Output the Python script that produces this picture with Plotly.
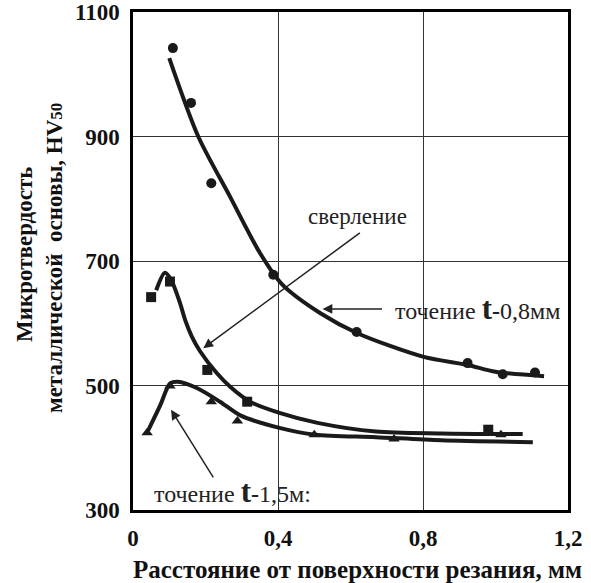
import plotly.graph_objects as go

# ---- data ----
# точение t-0,8 мм (circles)
pts08_x = [0.11, 0.160, 0.216, 0.387, 0.617, 0.923, 1.02, 1.109]
pts08_y = [1042, 954, 825, 678, 586, 536, 518, 521]
curve08_x = [0.10, 0.18, 0.268, 0.351, 0.412, 0.517, 0.619, 0.802, 0.923, 1.00, 1.134]
curve08_y = [1026, 900, 803, 712, 662, 616, 584, 546, 533, 522, 515]

# сверление (squares)
ptsdr_x = [0.05, 0.102, 0.205, 0.315, 0.98]
ptsdr_y = [642, 667, 525, 474, 429]
curvedr_x = [0.064, 0.088, 0.105, 0.130, 0.144, 0.162, 0.185, 0.231, 0.268, 0.323, 0.404, 0.509, 0.67, 0.85, 1.075]
curvedr_y = [653, 681, 670, 632, 605, 579, 555, 520, 498, 474, 456, 440, 426, 423, 422]

# точение t-1,5 мм (triangles)
pts15_x = [0.039, 0.102, 0.216, 0.288, 0.50, 0.72, 1.015]
pts15_y = [424, 499, 474, 443, 421, 414, 421]
curve15_x = [0.042, 0.075, 0.102, 0.124, 0.176, 0.24, 0.296, 0.404, 0.503, 0.67, 0.85, 1.103]
curve15_y = [428, 468, 503, 506, 496, 474, 452, 432, 421, 417, 412, 409]

x_ticks = [0, 0.4, 0.8, 1.2]
x_ticklabels = ["0", "0,4", "0,8", "1,2"]
y_ticks = [300, 500, 700, 900, 1100]
y_ticklabels = ["300", "500", "700", "900", "1100"]

SERIF = "Liberation Serif, Times New Roman, Tinos, serif"
fig = go.Figure()

def add_series(cx, cy, px, py, symbol):
    fig.add_trace(go.Scatter(x=cx, y=cy, mode="lines",
                             line=dict(color="#1a1a1a", width=4, shape="spline", smoothing=0.8),
                             hoverinfo="skip", showlegend=False))
    fig.add_trace(go.Scatter(x=px, y=py, mode="markers",
                             marker=dict(symbol=symbol, size=10, color="#1a1a1a"),
                             showlegend=False))

add_series(curve08_x, curve08_y, pts08_x, pts08_y, "circle")
add_series(curvedr_x, curvedr_y, ptsdr_x, ptsdr_y, "square")
add_series(curve15_x, curve15_y, pts15_x, pts15_y, "triangle-up")

ann_font = dict(family=SERIF, size=24, color="#222222")
T_SPAN = "<b><span style='font-size:31px'>t</span>-</b>"
annotations = [
    # arrows
    dict(x=0.194, y=560, ax=0.630, ay=747, axref="x", ayref="y", xref="x", yref="y",
         showarrow=True, arrowhead=2, arrowsize=1.3, arrowwidth=1.5, arrowcolor="#222222", text=""),
    dict(x=0.523, y=623, ax=0.691, ay=623, axref="x", ayref="y", xref="x", yref="y",
         showarrow=True, arrowhead=2, arrowsize=1.3, arrowwidth=1.5, arrowcolor="#222222", text=""),
    dict(x=0.105, y=461, ax=0.224, ay=350, axref="x", ayref="y", xref="x", yref="y",
         showarrow=True, arrowhead=2, arrowsize=1.3, arrowwidth=1.5, arrowcolor="#222222", text=""),
    # labels
    dict(x=0.619, y=771, xref="x", yref="y", text="сверление", showarrow=False,
         font=dict(family=SERIF, size=23, color="#222222"), xanchor="center", yanchor="middle"),
    dict(x=0.717, y=623, xref="x", yref="y",
         text="точение " + T_SPAN + "0,8мм", showarrow=False,
         font=ann_font, xanchor="left", yanchor="middle"),
    dict(x=0.052, y=329, xref="x", yref="y",
         text="точение " + T_SPAN + "1,5м:", showarrow=False,
         font=ann_font, xanchor="left", yanchor="middle"),
    # y-axis title (two lines)
    dict(x=(25 - 133) / 435, y=(510 - 255) / 498, xref="paper", yref="paper",
         text="<b>Микротвердость</b>", textangle=-90, showarrow=False,
         font=dict(family=SERIF, size=23, color="#111111"), xanchor="center", yanchor="middle"),
    dict(x=(54 - 133) / 435, y=(510 - 258) / 498, xref="paper", yref="paper",
         text="<b>металлической  основы, HV<span style='font-size:17px'>50</span></b>", textangle=-90,
         showarrow=False, font=dict(family=SERIF, size=23, color="#111111"),
         xanchor="center", yanchor="middle"),
    # x-axis title
    dict(x=(357 - 133) / 435, y=(510 - 569) / 498, xref="paper", yref="paper",
         text="<b>Расстояние от поверхности резания, мм</b>", showarrow=False,
         font=dict(family=SERIF, size=25, color="#111111"), xanchor="center", yanchor="middle"),
]

fig.update_layout(
    width=591, height=583,
    margin=dict(l=133, r=23, t=12, b=73, autoexpand=False),
    paper_bgcolor="white", plot_bgcolor="white",
    annotations=annotations,
    showlegend=False,
)
fig.update_xaxes(range=[0, 1.2], tickvals=x_ticks, ticktext=x_ticklabels,
                 showgrid=True, gridcolor="#333333", gridwidth=1,
                 showline=True, linecolor="black", linewidth=2.5, mirror=True,
                 zeroline=False, ticks="", ticklabelstandoff=6, automargin=False,
                 tickfont=dict(family=SERIF, size=23, color="#111111", weight="bold"))
fig.update_yaxes(range=[300, 1100], tickvals=y_ticks, ticktext=y_ticklabels,
                 showgrid=True, gridcolor="#333333", gridwidth=1,
                 showline=True, linecolor="black", linewidth=2.5, mirror=True,
                 zeroline=False, ticks="", ticklabelstandoff=6, automargin=False,
                 tickfont=dict(family=SERIF, size=23, color="#111111", weight="bold"))

# remove the default 8px body margin so the figure fills the window exactly
fig.write_html("out.html", config={"displayModeBar": False},
               post_script="document.body.style.margin='0';document.body.style.overflow='hidden';")
